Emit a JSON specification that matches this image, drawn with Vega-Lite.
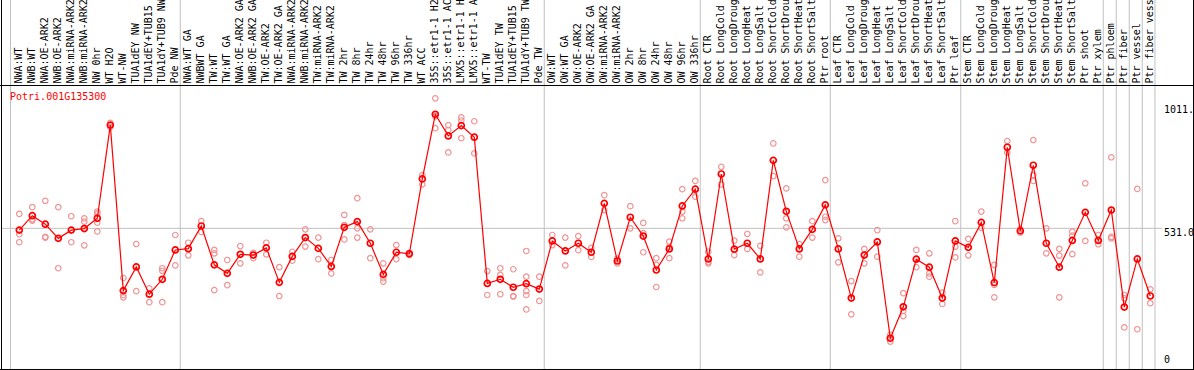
{
  "$schema": "https://vega.github.io/schema/vega-lite/v6.json",
  "width": 1194,
  "height": 370,
  "padding": 0,
  "autosize": "none",
  "background": "white",
  "config": {"view": {"stroke": null}},
  "datasets": {
    "cols": [
      {"i": 0, "label": "NWA:WT", "mean": 524, "reps": [587, 508, 477]},
      {"i": 1, "label": "NWB:WT", "mean": 580, "reps": [613, 566, 561]},
      {"i": 2, "label": "NWA:OE-ARK2", "mean": 547, "reps": [638, 498, 495]},
      {"i": 3, "label": "NWB:OE-ARK2", "mean": 492, "reps": [613, 376]},
      {"i": 4, "label": "NWA:miRNA-ARK2", "mean": 524, "reps": [578, 477]},
      {"i": 5, "label": "NWB:miRNA-ARK2", "mean": 530, "reps": [570, 557, 465]},
      {"i": 6, "label": "NW 0hr", "mean": 570, "reps": [596, 588, 553, 519]},
      {"i": 7, "label": "WT H2O", "mean": 932, "reps": [941, 925]},
      {"i": 8, "label": "WT-NW", "mean": 289, "reps": [338, 272, 263]},
      {"i": 9, "label": "TUA1dEY NW", "mean": 381, "reps": [470, 287]},
      {"i": 10, "label": "TUA1dEY+TUB15", "mean": 275, "reps": [298, 244]},
      {"i": 11, "label": "TUA1dY+TUB9 NW", "mean": 333, "reps": [376, 366, 244]},
      {"i": 12, "label": "Pde NW", "mean": 447, "reps": [505, 387]},
      {"i": 13, "label": "NWA:WT GA", "mean": 452, "reps": [475, 426]},
      {"i": 14, "label": "NWBWT GA", "mean": 540, "reps": [559, 517]},
      {"i": 15, "label": "TW:WT", "mean": 389, "reps": [447, 434, 291]},
      {"i": 16, "label": "TW:WT GA", "mean": 356, "reps": [408, 310]},
      {"i": 17, "label": "NWA:OE-ARK2 GA", "mean": 430, "reps": [462, 395]},
      {"i": 18, "label": "NWB:OE-ARK2 GA", "mean": 427, "reps": [436, 415]},
      {"i": 19, "label": "TW:OE-ARK2", "mean": 455, "reps": [475, 430]},
      {"i": 20, "label": "TW:OE-ARK2 GA", "mean": 321, "reps": [380, 268]},
      {"i": 21, "label": "NWA:miRNA-ARK2", "mean": 422, "reps": [440, 405]},
      {"i": 22, "label": "NWB:miRNA-ARK2", "mean": 495, "reps": [527, 460]},
      {"i": 23, "label": "TW:miRNA-ARK2", "mean": 453, "reps": [495, 411]},
      {"i": 24, "label": "TW:miRNA-ARK2", "mean": 383, "reps": [408, 356]},
      {"i": 25, "label": "TW 2hr", "mean": 535, "reps": [583, 544, 488]},
      {"i": 26, "label": "TW 8hr", "mean": 557, "reps": [648, 531, 495]},
      {"i": 27, "label": "TW 24hr", "mean": 473, "reps": [527, 415]},
      {"i": 28, "label": "TW 48hr", "mean": 352, "reps": [395, 337, 324]},
      {"i": 29, "label": "TW 96hr", "mean": 438, "reps": [466, 411]},
      {"i": 30, "label": "TW 336hr", "mean": 432, "reps": [436, 428]},
      {"i": 31, "label": "WT ACC", "mean": 723, "reps": [738, 702]},
      {"i": 32, "label": "35S::etr1-1 H2", "mean": 974, "reps": [1036, 966, 920]},
      {"i": 33, "label": "35S::etr1-1 AC", "mean": 890, "reps": [932, 913, 826]},
      {"i": 34, "label": "LMX5::etr1-1 H", "mean": 930, "reps": [962, 950, 881]},
      {"i": 35, "label": "LMX5::etr1-1 A", "mean": 885, "reps": [947, 822]},
      {"i": 36, "label": "WT-TW", "mean": 317, "reps": [365, 272]},
      {"i": 37, "label": "TUA1dEY TW", "mean": 333, "reps": [376, 350, 275]},
      {"i": 38, "label": "TUA1dEY+TUB15", "mean": 302, "reps": [372, 268, 266]},
      {"i": 39, "label": "TUA1dY+TUB9 TW", "mean": 316, "reps": [443, 343, 287, 272, 216]},
      {"i": 40, "label": "Pde TW", "mean": 295, "reps": [343, 249]},
      {"i": 41, "label": "OW:WT", "mean": 482, "reps": [505, 466]},
      {"i": 42, "label": "OW:WT GA", "mean": 443, "reps": [495, 387]},
      {"i": 43, "label": "OW:OE-ARK2", "mean": 473, "reps": [501, 446]},
      {"i": 44, "label": "OW:OE-ARK2 GA", "mean": 438, "reps": [455, 420]},
      {"i": 45, "label": "OW:miRNA-ARK2", "mean": 628, "reps": [660, 602]},
      {"i": 46, "label": "OW:miRNA-ARK2", "mean": 404, "reps": [413, 395]},
      {"i": 47, "label": "OW 2hr", "mean": 574, "reps": [617, 531]},
      {"i": 48, "label": "OW 8hr", "mean": 501, "reps": [552, 512, 438]},
      {"i": 49, "label": "OW 24hr", "mean": 369, "reps": [415, 389, 303]},
      {"i": 50, "label": "OW 48hr", "mean": 451, "reps": [479, 459, 415]},
      {"i": 51, "label": "OW 96hr", "mean": 618, "reps": [683, 596, 570]},
      {"i": 52, "label": "OW 336hr", "mean": 683, "reps": [715, 654]},
      {"i": 53, "label": "Root CTR", "mean": 412, "reps": [440, 401, 395]},
      {"i": 54, "label": "Root LongCold", "mean": 742, "reps": [770, 702]},
      {"i": 55, "label": "Root LongDroug", "mean": 450, "reps": [483, 427]},
      {"i": 56, "label": "Root LongHeat", "mean": 473, "reps": [509, 451]},
      {"i": 57, "label": "Root LongSalt", "mean": 412, "reps": [463, 360]},
      {"i": 58, "label": "Root ShortCold", "mean": 795, "reps": [861, 734]},
      {"i": 59, "label": "Root ShortDrou", "mean": 597, "reps": [686, 570, 535]},
      {"i": 60, "label": "Root ShortHeat", "mean": 451, "reps": [470, 421]},
      {"i": 61, "label": "Root ShortSalt", "mean": 527, "reps": [559, 495]},
      {"i": 62, "label": "Ptr root", "mean": 622, "reps": [718, 576, 563]},
      {"i": 63, "label": "Leaf CTR", "mean": 451, "reps": [492, 399]},
      {"i": 64, "label": "Leaf LongCold", "mean": 260, "reps": [326, 197]},
      {"i": 65, "label": "Leaf LongDroug", "mean": 427, "reps": [451, 395]},
      {"i": 66, "label": "Leaf LongHeat", "mean": 478, "reps": [524, 421]},
      {"i": 67, "label": "Leaf LongSalt", "mean": 104, "reps": [117, 91]},
      {"i": 68, "label": "Leaf ShortCold", "mean": 226, "reps": [279, 210, 190]},
      {"i": 69, "label": "Leaf ShortDrou", "mean": 411, "reps": [447, 380]},
      {"i": 70, "label": "Leaf ShortHeat", "mean": 380, "reps": [434, 356, 343]},
      {"i": 71, "label": "Leaf ShortSalt", "mean": 260, "reps": [281, 237]},
      {"i": 72, "label": "Ptr leaf", "mean": 482, "reps": [559, 460, 418]},
      {"i": 73, "label": "Stem CTR", "mean": 457, "reps": [490, 426]},
      {"i": 74, "label": "Stem LongCold", "mean": 554, "reps": [596, 533]},
      {"i": 75, "label": "Stem LongDroug", "mean": 320, "reps": [389, 311, 263]},
      {"i": 76, "label": "Stem LongHeat", "mean": 846, "reps": [870, 826]},
      {"i": 77, "label": "Stem LongSalt", "mean": 521, "reps": [528, 514]},
      {"i": 78, "label": "Stem ShortCold", "mean": 776, "reps": [874, 738, 715]},
      {"i": 79, "label": "Stem ShortDrou", "mean": 473, "reps": [531, 434]},
      {"i": 80, "label": "Stem ShortHeat", "mean": 380, "reps": [451, 425, 263]},
      {"i": 81, "label": "Stem ShortSalt", "mean": 484, "reps": [518, 503, 431]},
      {"i": 82, "label": "Ptr shoot", "mean": 593, "reps": [706, 482]},
      {"i": 83, "label": "Ptr xylem", "mean": 484, "reps": [505, 469]},
      {"i": 84, "label": "Ptr phloem", "mean": 602, "reps": [807, 498, 492]},
      {"i": 85, "label": "Ptr fiber", "mean": 225, "reps": [272, 259, 146]},
      {"i": 86, "label": "Ptr vessel", "mean": 412, "reps": [684, 139]},
      {"i": 87, "label": "Ptr fiber vess", "mean": 268, "reps": [294, 240]}
    ],
    "seps": [
      {"sep": -0.68}, {"sep": 12.38}, {"sep": 40.38}, {"sep": 52.38}, {"sep": 62.38},
      {"sep": 72.42}, {"sep": 83.38}, {"sep": 84.38}, {"sep": 85.38}, {"sep": 86.38}, {"sep": 87.36}
    ],
    "one": [{}],
    "ticks": [
      {"v": 1011, "t": "1011."},
      {"v": 531, "t": "531.0"}
    ]
  },
  "layer": [
    {
      "data": {"name": "seps"},
      "mark": {"type": "rule", "color": "#c0c0c0", "strokeWidth": 1},
      "encoding": {
        "x": {"field": "sep", "type": "quantitative", "scale": {"domain": [-1.4846, 90.3615], "nice": false, "zero": false}, "axis": null},
        "y": {"datum": 1418.03, "type": "quantitative", "scale": {"domain": [-19.43, 1418.03], "nice": false, "zero": false}, "axis": null},
        "y2": {"datum": -17.48}
      }
    },
    {
      "data": {"name": "one"},
      "mark": {"type": "rule", "color": "#c0c0c0", "strokeWidth": 1},
      "encoding": {
        "x": {"datum": -1.37, "type": "quantitative", "scale": {"domain": [-1.4846, 90.3615], "nice": false, "zero": false}, "axis": null},
        "x2": {"datum": 87.9},
        "y": {"datum": 531, "type": "quantitative", "scale": {"domain": [-19.43, 1418.03], "nice": false, "zero": false}, "axis": null}
      }
    },
    {
      "data": {"name": "cols"},
      "mark": {"type": "text", "angle": 270, "align": "left", "baseline": "middle", "font": "DejaVu Sans Mono", "fontSize": 10, "color": "black"},
      "encoding": {
        "x": {"field": "i", "type": "quantitative", "scale": {"domain": [-1.4846, 90.3615], "nice": false, "zero": false}, "axis": null},
        "y": {"datum": 1093.6, "type": "quantitative", "scale": {"domain": [-19.43, 1418.03], "nice": false, "zero": false}, "axis": null},
        "text": {"field": "label"}
      }
    },
    {
      "data": {"name": "cols"},
      "transform": [{"flatten": ["reps"]}],
      "mark": {"type": "point", "shape": "circle", "filled": false, "stroke": "#f09494", "strokeWidth": 1.2, "size": 30, "opacity": 1},
      "encoding": {
        "x": {"field": "i", "type": "quantitative", "scale": {"domain": [-1.4846, 90.3615], "nice": false, "zero": false}, "axis": null},
        "y": {"field": "reps", "type": "quantitative", "scale": {"domain": [-19.43, 1418.03], "nice": false, "zero": false}, "axis": null}
      }
    },
    {
      "data": {"name": "cols"},
      "mark": {"type": "line", "color": "#ff0000", "strokeWidth": 1.2},
      "encoding": {
        "x": {"field": "i", "type": "quantitative", "scale": {"domain": [-1.4846, 90.3615], "nice": false, "zero": false}, "axis": null},
        "y": {"field": "mean", "type": "quantitative", "scale": {"domain": [-19.43, 1418.03], "nice": false, "zero": false}, "axis": null}
      }
    },
    {
      "data": {"name": "cols"},
      "mark": {"type": "point", "shape": "circle", "filled": false, "stroke": "#ff0000", "strokeWidth": 1.7, "size": 36, "opacity": 1},
      "encoding": {
        "x": {"field": "i", "type": "quantitative", "scale": {"domain": [-1.4846, 90.3615], "nice": false, "zero": false}, "axis": null},
        "y": {"field": "mean", "type": "quantitative", "scale": {"domain": [-19.43, 1418.03], "nice": false, "zero": false}, "axis": null}
      }
    },
    {
      "data": {"name": "one"},
      "mark": {"type": "text", "text": "Potri.001G135300", "align": "left", "baseline": "middle", "font": "DejaVu Sans Mono", "fontSize": 10, "color": "#ff0000"},
      "encoding": {
        "x": {"datum": -0.715, "type": "quantitative", "scale": {"domain": [-1.4846, 90.3615], "nice": false, "zero": false}, "axis": null},
        "y": {"datum": 1043, "type": "quantitative", "scale": {"domain": [-19.43, 1418.03], "nice": false, "zero": false}, "axis": null}
      }
    },
    {
      "data": {"name": "ticks"},
      "mark": {"type": "text", "align": "left", "baseline": "top", "font": "DejaVu Sans Mono", "fontSize": 10, "color": "black"},
      "encoding": {
        "x": {"datum": 88.05, "type": "quantitative", "scale": {"domain": [-1.4846, 90.3615], "nice": false, "zero": false}, "axis": null},
        "y": {"field": "v", "type": "quantitative", "scale": {"domain": [-19.43, 1418.03], "nice": false, "zero": false}, "axis": null},
        "text": {"field": "t"}
      }
    },
    {
      "data": {"name": "one"},
      "mark": {"type": "text", "text": "0", "align": "left", "baseline": "bottom", "font": "DejaVu Sans Mono", "fontSize": 10, "color": "black"},
      "encoding": {
        "x": {"datum": 88.05, "type": "quantitative", "scale": {"domain": [-1.4846, 90.3615], "nice": false, "zero": false}, "axis": null},
        "y": {"datum": 0, "type": "quantitative", "scale": {"domain": [-19.43, 1418.03], "nice": false, "zero": false}, "axis": null}
      }
    },
    {
      "data": {"name": "one"},
      "mark": {"type": "rule", "color": "black", "strokeWidth": 1},
      "encoding": {
        "x": {"datum": -1.369, "type": "quantitative", "scale": {"domain": [-1.4846, 90.3615], "nice": false, "zero": false}, "axis": null},
        "y": {"datum": 1418.03, "type": "quantitative", "scale": {"domain": [-19.43, 1418.03], "nice": false, "zero": false}, "axis": null},
        "y2": {"datum": -17.48}
      }
    },
    {
      "data": {"name": "one"},
      "mark": {"type": "rule", "color": "black", "strokeWidth": 1},
      "encoding": {
        "x": {"datum": 90.323, "type": "quantitative", "scale": {"domain": [-1.4846, 90.3615], "nice": false, "zero": false}, "axis": null},
        "y": {"datum": 1418.03, "type": "quantitative", "scale": {"domain": [-19.43, 1418.03], "nice": false, "zero": false}, "axis": null},
        "y2": {"datum": -17.48}
      }
    },
    {
      "data": {"name": "one"},
      "mark": {"type": "rule", "color": "black", "strokeWidth": 1},
      "encoding": {
        "x": {"datum": -1.4846, "type": "quantitative", "scale": {"domain": [-1.4846, 90.3615], "nice": false, "zero": false}, "axis": null},
        "x2": {"datum": 90.3615},
        "y": {"datum": -17.48, "type": "quantitative", "scale": {"domain": [-19.43, 1418.03], "nice": false, "zero": false}, "axis": null}
      }
    },
    {
      "data": {"name": "one"},
      "mark": {"type": "rule", "color": "black", "strokeWidth": 1},
      "encoding": {
        "x": {"datum": -1.4846, "type": "quantitative", "scale": {"domain": [-1.4846, 90.3615], "nice": false, "zero": false}, "axis": null},
        "x2": {"datum": 90.3615},
        "y": {"datum": 1085.86, "type": "quantitative", "scale": {"domain": [-19.43, 1418.03], "nice": false, "zero": false}, "axis": null}
      }
    }
  ]
}
